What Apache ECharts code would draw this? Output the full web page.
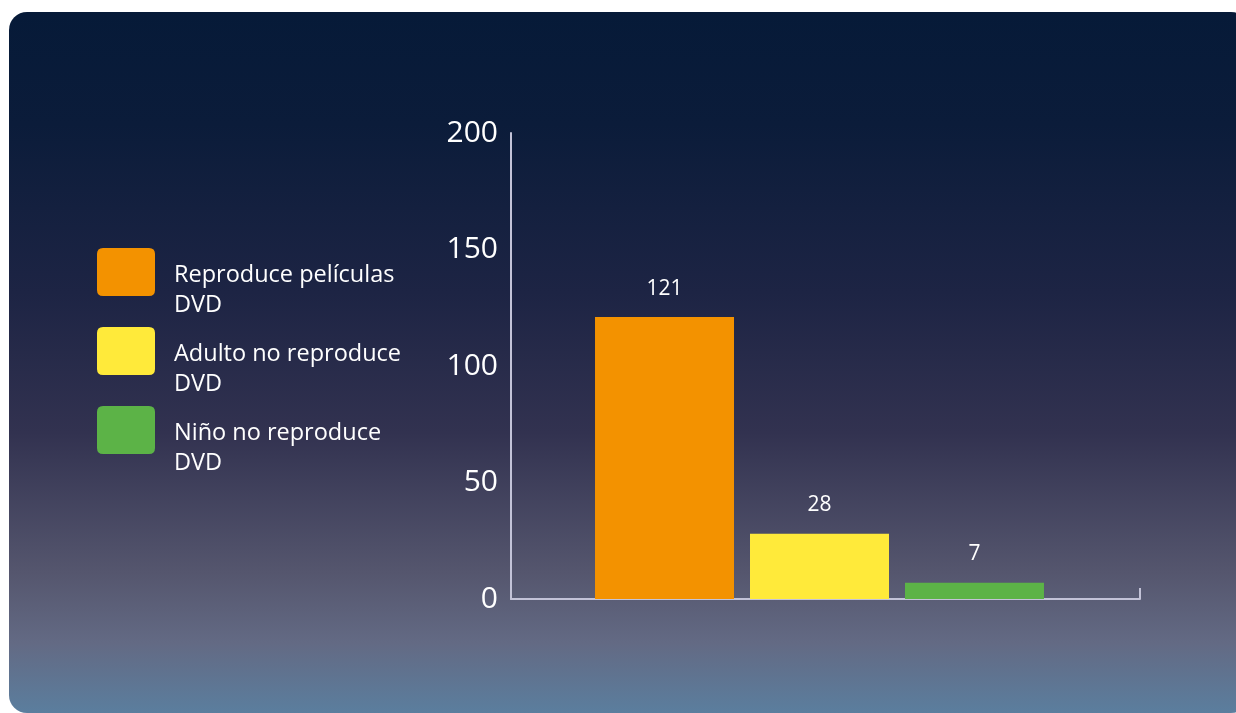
<!DOCTYPE html>
<html>
<head>
<meta charset="utf-8">
<style>
  html, body { margin: 0; padding: 0; background: #ffffff; }
  #panel {
    position: absolute; left: 9px; top: 12px; width: 1240px; height: 701px;
    border-radius: 18px;
    background: linear-gradient(to bottom, #061a38 0%, #0b1c3a 16%, #1d2444 40%, #323250 60%, #55566e 80%, #636a84 90%, #5b7e9e 100%);
  }
  #chart { position: absolute; left: 0; top: 0; width: 1236px; height: 713px; }
</style>
<script src="https://cdn.jsdelivr.net/npm/echarts@6/dist/echarts.min.js"></script>
</head>
<body>
<div id="panel"></div>
<div id="chart"></div>
<script>
const categories = ["DVD"];
const seriesNames = ["Reproduce películas\nDVD", "Adulto no reproduce\nDVD", "Niño no reproduce\nDVD"];
const seriesValues = [121, 28, 7];
const seriesColors = ["#f39200", "#ffea3a", "#5cb347"];
const yTicks = [0, 50, 100, 150, 200];

const fontFamily = "'Open Sans', 'DejaVu Sans', sans-serif";
const axisColor = "#c3c3d8";
const yMin = yTicks[0];
const yMax = yTicks[yTicks.length - 1];

const chart = echarts.init(document.getElementById("chart"), null, { renderer: "canvas" });

chart.setOption({
  backgroundColor: "transparent",
  animation: false,
  textStyle: { fontFamily },
  legend: {
    orient: "vertical",
    left: 97,
    top: 237,
    padding: 0,
    itemGap: -1,
    itemWidth: 58,
    itemHeight: 48,
    icon: "path://M6,0H52Q58,0 58,6V42Q58,48 52,48H6Q0,48 0,42V6Q0,0 6,0Z",
    selectedMode: false,
    formatter(name) {
      const lines = name.split("\n").map((line) => `{t|${line}}`);
      return ["{gap| }"].concat(lines).join("\n");
    },
    textStyle: {
      color: "#ffffff",
      fontSize: 23.5,
      fontFamily,
      rich: {
        gap: { lineHeight: 36, fontSize: 10 },
        t: { lineHeight: 30, fontSize: 23.5, color: "#ffffff", fontFamily, padding: [0, 0, 0, 14] }
      }
    },
    data: seriesNames
  },
  grid: [
    { left: 511, right: 96, top: 133, bottom: 114 },
    { left: 505, right: 102, top: 133, bottom: 114 }
  ],
  xAxis: [
    {
      type: "category",
      gridIndex: 0,
      data: categories,
      axisLine: { lineStyle: { color: axisColor, width: 2 } },
      axisTick: { show: true, inside: true, length: 11, lineStyle: { color: axisColor, width: 2 } },
      axisLabel: { show: false },
      splitLine: { show: false }
    },
    {
      type: "category",
      gridIndex: 1,
      data: categories,
      show: false
    }
  ],
  yAxis: [
    {
      type: "value",
      gridIndex: 0,
      min: yMin,
      max: yMax,
      interval: yTicks[1] - yTicks[0],
      axisLine: { show: true, lineStyle: { color: axisColor, width: 2 } },
      axisTick: { show: false },
      splitLine: { show: false },
      axisLabel: { color: "#ffffff", fontSize: 30, margin: 13, fontFamily, padding: [4, 0, 0, 0] }
    },
    {
      type: "value",
      gridIndex: 1,
      min: yMin,
      max: yMax,
      show: false,
      splitLine: { show: false }
    }
  ],
  series: seriesNames.map((name, i) => ({
    type: "bar",
    name,
    xAxisIndex: 1,
    yAxisIndex: 1,
    data: [seriesValues[i]],
    barWidth: 139,
    barGap: "11.5%",
    itemStyle: { color: seriesColors[i] },
    label: {
      show: true,
      position: "top",
      distance: 18,
      color: "#ffffff",
      fontSize: 21,
      fontFamily
    }
  }))
});
</script>
</body>
</html>
